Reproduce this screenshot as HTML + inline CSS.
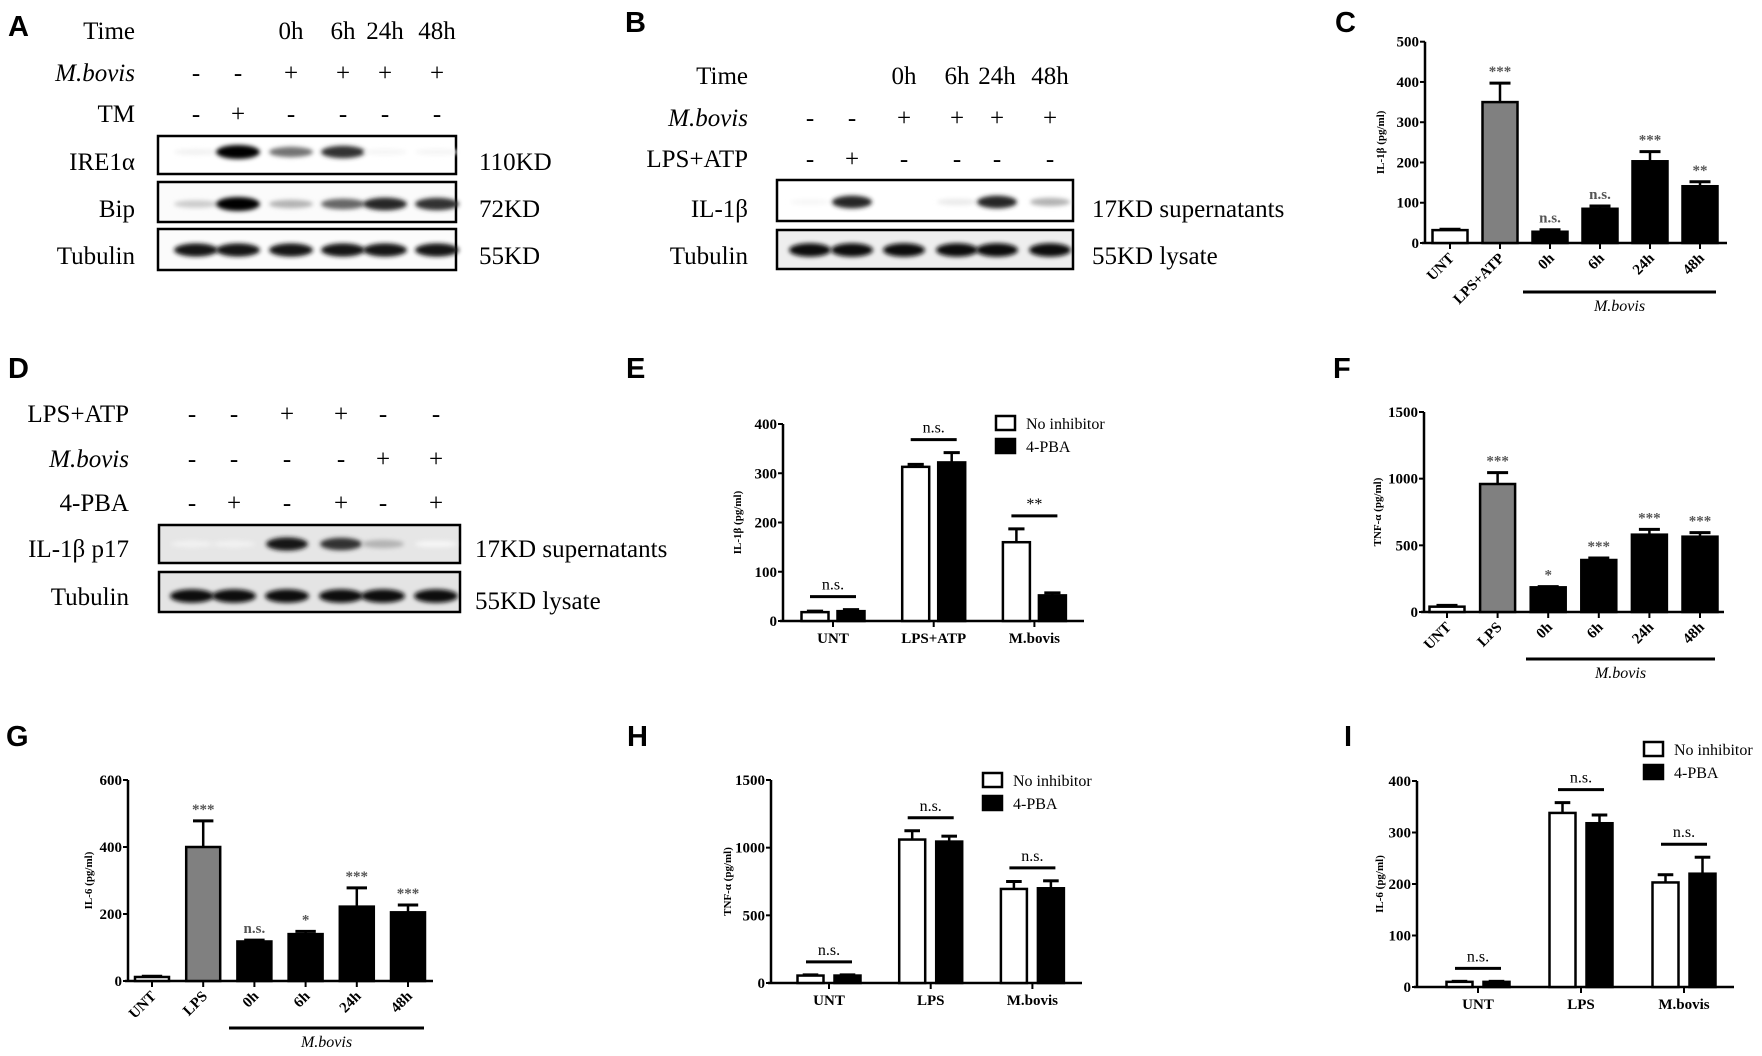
<!DOCTYPE html>
<html><head><meta charset="utf-8">
<style>
html,body{margin:0;padding:0;background:#fff;}
svg{display:block;font-family:"Liberation Serif","DejaVu Serif",serif;}
text{font-family:"Liberation Serif","DejaVu Serif",serif;}
.pl{font-family:"Liberation Sans","DejaVu Sans",sans-serif !important;font-weight:bold;font-size:29px;}
.wb{font-family:"Liberation Serif",serif;font-size:25px;}
.it{font-style:italic;}
.tk{font-family:"Liberation Serif",serif;font-size:15px;font-weight:bold;}
.ax{font-family:"Liberation Serif",serif;font-size:11px;font-weight:bold;}
.sig{font-family:"Liberation Serif",serif;font-size:15px;fill:#555;font-weight:bold;}
.lg{font-family:"Liberation Serif",serif;font-size:16px;}
</style></head>
<body>
<svg id="fig" width="1762" height="1056" viewBox="0 0 1762 1056" xmlns="http://www.w3.org/2000/svg" font-family="Liberation Serif, serif">
<defs>
<filter id="blur" x="-30%" y="-100%" width="160%" height="300%"><feGaussianBlur stdDeviation="2.2"/></filter>
</defs>
<g id="blots"></g>
<g id="charts"></g>
</svg>
<script>
// ---------- Western blot data ----------
const aLanes = [196, 238, 291, 343, 385, 437];
const aTime = ["", "", "0h", "6h", "24h", "48h"];
const aMbovis = ["-", "-", "+", "+", "+", "+"];
const aTM = ["-", "+", "-", "-", "-", "-"];
const aIRE = [0.05, 1.0, 0.55, 0.8, 0.04, 0.04];
const aBip = [0.2, 1.0, 0.3, 0.6, 0.85, 0.8];
const aTub = [0.9, 0.9, 0.9, 0.9, 0.9, 0.9];

const bLanes = [810, 852, 904, 957, 997, 1050];
const bTime = ["", "", "0h", "6h", "24h", "48h"];
const bMbovis = ["-", "-", "+", "+", "+", "+"];
const bLPS = ["-", "+", "-", "-", "-", "-"];
const bIL = [0.03, 0.85, 0.02, 0.08, 0.85, 0.3];
const bTub = [0.95, 0.95, 0.95, 0.95, 0.95, 0.95];

const dLanes = [192, 234, 287, 341, 383, 436];
const dLPS = ["-", "-", "+", "+", "-", "-"];
const dMbovis = ["-", "-", "-", "-", "+", "+"];
const dPBA = ["-", "+", "-", "+", "-", "+"];
const dIL = [0.05, 0.05, 0.9, 0.8, 0.3, 0.03];
const dTub = [0.95, 0.95, 0.95, 0.95, 0.95, 0.95];

// ---------- Chart data ----------
const cCats = ["UNT", "LPS+ATP", "0h", "6h", "24h", "48h"];
const cVals = [32, 350, 28, 85, 203, 141];
const cErrs = [2, 47, 5, 7, 24, 11];
const cSig = ["", "***", "n.s.", "n.s.", "***", "**"];
const cTicks = [0, 100, 200, 300, 400, 500];

const fCats = ["UNT", "LPS", "0h", "6h", "24h", "48h"];
const fVals = [40, 960, 185, 390, 580, 565];
const fErrs = [10, 85, 5, 15, 40, 30];
const fSig = ["", "***", "*", "***", "***", "***"];
const fTicks = [0, 500, 1000, 1500];

const gCats = ["UNT", "LPS", "0h", "6h", "24h", "48h"];
const gVals = [12, 400, 118, 140, 222, 205];
const gErrs = [2, 78, 4, 8, 56, 22];
const gSig = ["", "***", "n.s.", "*", "***", "***"];
const gTicks = [0, 200, 400, 600];

const eGroups = ["UNT", "LPS+ATP", "M.bovis"];
const eNoInh = [18, 313, 160];
const eNoInhErr = [2, 5, 27];
const ePBA = [20, 322, 52];
const ePBAErr = [3, 20, 5];
const eSig = ["n.s.", "n.s.", "**"];
const eTicks = [0, 100, 200, 300, 400];

const hGroups = ["UNT", "LPS", "M.bovis"];
const hNoInh = [55, 1060, 695];
const hNoInhErr = [5, 65, 55];
const hPBA = [55, 1045, 700];
const hPBAErr = [5, 40, 55];
const hSig = ["n.s.", "n.s.", "n.s."];
const hTicks = [0, 500, 1000, 1500];

const iGroups = ["UNT", "LPS", "M.bovis"];
const iNoInh = [10, 338, 203];
const iNoInhErr = [1, 20, 15];
const iPBA = [10, 318, 220];
const iPBAErr = [1, 16, 32];
const iSig = ["n.s.", "n.s.", "n.s."];
const iTicks = [0, 100, 200, 300, 400];

const NS = "http://www.w3.org/2000/svg";
function mk(tag, attrs, parent) {
  const e = document.createElementNS(NS, tag);
  for (const k in attrs) e.setAttribute(k, attrs[k]);
  parent.appendChild(e);
  return e;
}
function txt(s, x, y, cls, anchor, parent) {
  const t = mk("text", {x: x, y: y, "class": cls, "text-anchor": anchor || "start"}, parent);
  t.textContent = s;
  return t;
}
const blots = document.getElementById("blots");
const charts = document.getElementById("charts");

const letters = [["A",8,36],["B",625,32],["C",1335,32],["D",8,378],["E",626,378],["F",1333,378],["G",6,746],["H",627,746],["I",1344,746]];
letters.forEach(function(L){
  const t = txt(L[0], L[1], L[2], "pl", "start", blots);
  
  
});

function signRow(label, italic, signs, lanes, labelX, y, parent, name) {
  const t = txt(label, labelX, y, "wb" + (italic ? " it" : ""), "end", parent);
  
  
  signs.forEach(function(s, i){
    if (!s) return;
    const st = txt(s, lanes[i], y, "wb", "middle", parent);
    
    
  });
}
function blot(lanes, x1, x2, y1, y2, vals, bandY, bandW, bg, parent, name) {
  const r = mk("rect", {x: x1, y: y1, width: x2 - x1, height: y2 - y1, fill: bg, stroke: "#000", "stroke-width": 2.5}, parent);
  
  
  vals.forEach(function(v, i){
    if (v <= 0.02) return;
    const g = Math.round(255 * (1 - v));
    const e = mk("ellipse", {cx: lanes[i], cy: bandY, rx: bandW / 2, ry: 3 + 4 * v, fill: "rgb(" + g + "," + g + "," + g + ")", filter: "url(#blur)"}, parent);
    
    
  });
}
function label(s, x, y, anchor, parent, name) {
  const t = txt(s, x, y, "wb", anchor, parent);
  
  
}

// Panel A
signRow("Time", false, aTime, aLanes, 135, 39, blots, "a-time");
signRow("M.bovis", true, aMbovis, aLanes, 135, 81, blots, "a-mbovis");
signRow("TM", false, aTM, aLanes, 135, 122, blots, "a-tm");
blot(aLanes, 158, 456, 136, 174, aIRE, 152, 44, "#fff", blots, "a-ire1a");
blot(aLanes, 158, 456, 182, 222, aBip, 204, 44, "#fbfbfb", blots, "a-bip");
blot(aLanes, 158, 456, 229, 270, aTub, 250, 44, "#fbfbfb", blots, "a-tubulin");
label("IRE1α", 135, 170, "end", blots, "a-ire1a-label");
label("Bip", 135, 217, "end", blots, "a-bip-label");
label("Tubulin", 135, 264, "end", blots, "a-tubulin-label");
label("110KD", 479, 170, "start", blots, "a-110kd");
label("72KD", 479, 217, "start", blots, "a-72kd");
label("55KD", 479, 264, "start", blots, "a-55kd");

// Panel B
signRow("Time", false, bTime, bLanes, 748, 84, blots, "b-time");
signRow("M.bovis", true, bMbovis, bLanes, 748, 126, blots, "b-mbovis");
signRow("LPS+ATP", false, bLPS, bLanes, 748, 167, blots, "b-lpsatp");
blot(bLanes, 777, 1073, 180, 221, bIL, 202, 40, "#fff", blots, "b-il1b");
blot(bLanes, 777, 1073, 230, 269, bTub, 250, 42, "#eee", blots, "b-tubulin");
label("IL-1β", 748, 217, "end", blots, "b-il1b-label");
label("Tubulin", 748, 264, "end", blots, "b-tubulin-label");
label("17KD supernatants", 1092, 217, "start", blots, "b-17kd");
label("55KD lysate", 1092, 264, "start", blots, "b-55kd");

// Panel D
signRow("LPS+ATP", false, dLPS, dLanes, 129, 422, blots, "d-lpsatp");
signRow("M.bovis", true, dMbovis, dLanes, 129, 467, blots, "d-mbovis");
signRow("4-PBA", false, dPBA, dLanes, 129, 511, blots, "d-4pba");
blot(dLanes, 159, 460, 525, 563, dIL, 544, 42, "#e6e6e6", blots, "d-il1b-p17");
blot(dLanes, 159, 460, 572, 612, dTub, 596, 44, "#e4e4e4", blots, "d-tubulin");
label("IL-1β p17", 129, 557, "end", blots, "d-il1b-label");
label("Tubulin", 129, 605, "end", blots, "d-tubulin-label");
label("17KD supernatants", 475, 557, "start", blots, "d-17kd");
label("55KD lysate", 475, 609, "start", blots, "d-55kd");

// ---------- Charts ----------
function axes(cfg, g) {
  const sy = function(v){ return cfg.y0 - (v / cfg.max) * (cfg.y0 - cfg.yTop); };
  const yl = mk("line", {x1: cfg.ax, y1: cfg.y0, x2: cfg.ax, y2: cfg.yTop, stroke: "#000", "stroke-width": 2.5}, g);
  
  
  const xl = mk("line", {x1: cfg.ax - 3, y1: cfg.y0, x2: cfg.axEnd, y2: cfg.y0, stroke: "#000", "stroke-width": 2.5}, g);
  
  
  cfg.ticks.forEach(function(t){
    const y = sy(t);
    mk("line", {x1: cfg.ax - 5, y1: y, x2: cfg.ax, y2: y, stroke: "#000", "stroke-width": 2}, g);
    const tl = txt(String(t), cfg.ax - 6, y + 5, "tk", "end", g);
    
    
  });
  const yt = txt(cfg.ytitle, 0, 0, "ax", "middle", g);
  yt.setAttribute("transform", "translate(" + cfg.titleX + "," + ((cfg.y0 + cfg.yTop) / 2) + ") rotate(-90)");
  
  
  return sy;
}
function errBar(cx, top, errTop, half, g) {
  const l = mk("line", {x1: cx, y1: top, x2: cx, y2: errTop, stroke: "#000", "stroke-width": 2.5}, g);
  
  
  mk("line", {x1: cx - half, y1: errTop, x2: cx + half, y2: errTop, stroke: "#000", "stroke-width": 3}, g);
}
function simpleChart(cfg, cats, vals, errs, sig) {
  const g = mk("g", {}, charts);
  
  
  const sy = axes(cfg, g);
  cats.forEach(function(c, i){
    const cx = cfg.c0 + i * cfg.step;
    const top = sy(vals[i]);
    const fill = i === 0 ? "#fff" : (i === 1 ? "#808080" : "#000");
    const errTop = sy(vals[i] + errs[i]);
    errBar(cx, top, errTop, cfg.w * 0.3, g);
    const b = mk("rect", {x: cx - cfg.w / 2, y: top, width: cfg.w, height: cfg.y0 - top, fill: fill, stroke: "#000", "stroke-width": 2.5}, g);
    
    
    mk("line", {x1: cx, y1: cfg.y0, x2: cx, y2: cfg.y0 + 6, stroke: "#000", "stroke-width": 2}, g);
    if (sig[i]) {
      const s = txt(sig[i], cx, errTop - 7, "sig", "middle", g);
      
      
    }
    const xl = txt(c, 0, 0, "tk", "end", g);
    xl.setAttribute("transform", "translate(" + (cx + 5) + "," + (cfg.y0 + 16) + ") rotate(-45)");
    
    
  });
  const u = mk("line", {x1: cfg.ul[0], y1: cfg.ul[2], x2: cfg.ul[1], y2: cfg.ul[2], stroke: "#000", "stroke-width": 3}, g);
  
  
  const m = txt("M.bovis", (cfg.ul[0] + cfg.ul[1]) / 2, cfg.ul[2] + 19, "lg it", "middle", g);
  
  
}
function groupChart(cfg, groups, a, aErr, b, bErr, sig) {
  const g = mk("g", {}, charts);
  
  
  const sy = axes(cfg, g);
  groups.forEach(function(name, i){
    const gc = cfg.c0 + i * cfg.step;
    [[a, aErr, "#fff", -1, "no-inhibitor"], [b, bErr, "#000", 1, "4pba"]].forEach(function(s){
      const cx = gc + s[3] * cfg.off;
      const top = sy(s[0][i]);
      const errTop = sy(s[0][i] + s[1][i]);
      errBar(cx, top, errTop, cfg.w * 0.3, g);
      const r = mk("rect", {x: cx - cfg.w / 2, y: top, width: cfg.w, height: cfg.y0 - top, fill: s[2], stroke: "#000", "stroke-width": 2.5}, g);
      
      
    });
    mk("line", {x1: gc, y1: cfg.y0, x2: gc, y2: cfg.y0 + 6, stroke: "#000", "stroke-width": 2}, g);
    const maxTop = Math.min(sy(a[i] + aErr[i]), sy(b[i] + bErr[i]));
    const ly = maxTop - 13;
    const sl = mk("line", {x1: gc - 23, y1: ly, x2: gc + 23, y2: ly, stroke: "#000", "stroke-width": 3}, g);
    
    
    const st = txt(sig[i], gc, ly - 7, "lg", "middle", g);
    
    
    const xl = txt(name, gc, cfg.y0 + 22, "tk", "middle", g);
    
    
  });
  const lg = cfg.legend;
  const le = mk("g", {}, g);
  
  
  mk("rect", {x: lg[0], y: lg[1], width: 19, height: 14, fill: "#fff", stroke: "#000", "stroke-width": 2.5}, le);
  txt("No inhibitor", lg[0] + 30, lg[1] + 13, "lg", "start", le);
  mk("rect", {x: lg[0], y: lg[1] + 23, width: 19, height: 14, fill: "#000", stroke: "#000", "stroke-width": 2.5}, le);
  txt("4-PBA", lg[0] + 30, lg[1] + 36, "lg", "start", le);
}

simpleChart({name: "chart-c-il1b", ax: 1425, axEnd: 1727, y0: 243, yTop: 41.7, max: 500, ticks: cTicks, ytitle: "IL-1β (pg/ml)", titleX: 1384, c0: 1450, step: 50, w: 35, ul: [1523, 1716, 292]}, cCats, cVals, cErrs, cSig);
simpleChart({name: "chart-f-tnfa", ax: 1424, axEnd: 1724, y0: 612, yTop: 412, max: 1500, ticks: fTicks, ytitle: "TNF-α (pg/ml)", titleX: 1381, c0: 1447, step: 50.6, w: 35, ul: [1526, 1715, 659]}, fCats, fVals, fErrs, fSig);
simpleChart({name: "chart-g-il6", ax: 128, axEnd: 433, y0: 981, yTop: 780, max: 600, ticks: gTicks, ytitle: "IL-6 (pg/ml)", titleX: 92, c0: 152, step: 51.2, w: 34, ul: [229, 424, 1028]}, gCats, gVals, gErrs, gSig);
groupChart({name: "chart-e-il1b-inhibitor", ax: 783, axEnd: 1084, y0: 621, yTop: 424, max: 400, ticks: eTicks, ytitle: "IL-1β (pg/ml)", titleX: 741, c0: 833, step: 100.7, off: 18, w: 27, legend: [996, 416]}, eGroups, eNoInh, eNoInhErr, ePBA, ePBAErr, eSig);
groupChart({name: "chart-h-tnfa-inhibitor", ax: 771, axEnd: 1082, y0: 983, yTop: 780, max: 1500, ticks: hTicks, ytitle: "TNF-α (pg/ml)", titleX: 731, c0: 829, step: 101.7, off: 18.5, w: 26, legend: [983, 773]}, hGroups, hNoInh, hNoInhErr, hPBA, hPBAErr, hSig);
groupChart({name: "chart-i-il6-inhibitor", ax: 1417, axEnd: 1734, y0: 987, yTop: 781, max: 400, ticks: iTicks, ytitle: "IL-6 (pg/ml)", titleX: 1383, c0: 1478, step: 103, off: 18.5, w: 26, legend: [1644, 742]}, iGroups, iNoInh, iNoInhErr, iPBA, iPBAErr, iSig);
</script>
</body></html>
